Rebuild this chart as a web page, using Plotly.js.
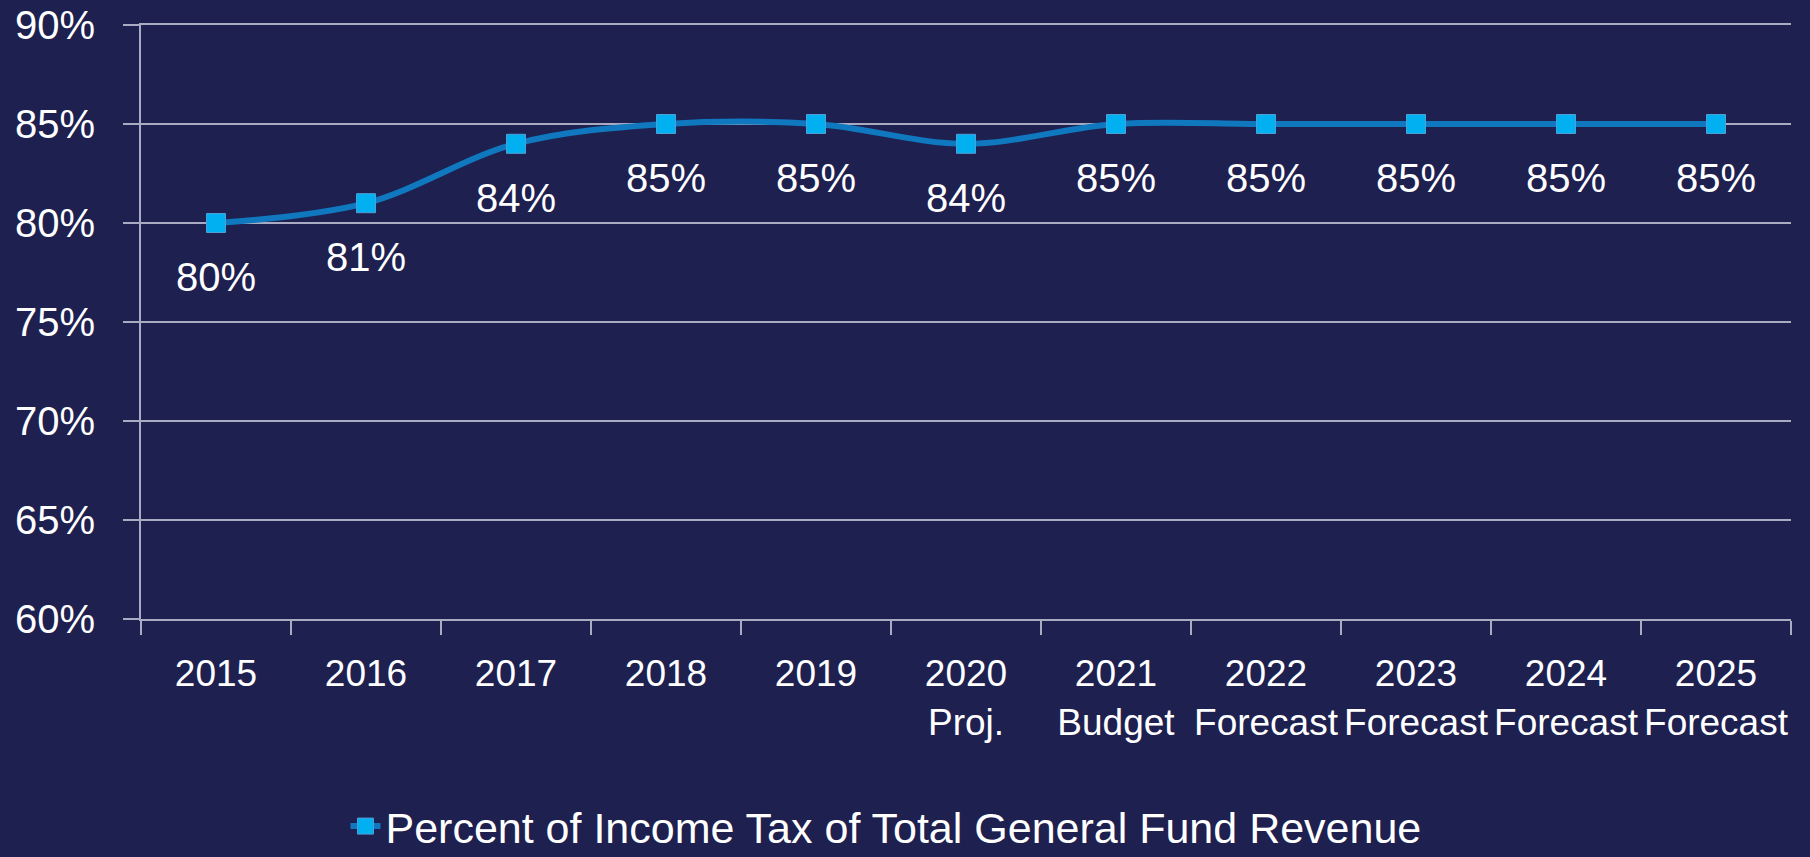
<!DOCTYPE html>
<html>
<head>
<meta charset="utf-8">
<script src="https://cdn.plot.ly/plotly-3.0.1.min.js"></script>
<style>
  html, body { margin: 0; padding: 0; background: #1e2050; }
  #chart { width: 1810px; height: 857px; }
</style>
</head>
<body>
<div id="chart"></div>
<script>
const categories = ["2015", "2016", "2017", "2018", "2019", "2020<br>Proj.", "2021<br>Budget", "2022<br>Forecast", "2023<br>Forecast", "2024<br>Forecast", "2025<br>Forecast"];
const percentValues = [0.80, 0.81, 0.84, 0.85, 0.85, 0.84, 0.85, 0.85, 0.85, 0.85, 0.85];
const seriesName = "Percent of Income Tax of Total General Fund Revenue";
const yTickValues = [0.60, 0.65, 0.70, 0.75, 0.80, 0.85, 0.90];

const FONT = '"Liberation Sans", Arial, sans-serif';

const trace = {
  type: 'scatter',
  mode: 'lines+markers',
  x: categories,
  y: percentValues,
  name: seriesName,
  line: { color: '#0f78bf', width: 6, shape: 'spline', smoothing: 1 },
  marker: { symbol: 'square', size: 19, color: '#00b0f0', line: { color: '#4f9fd6', width: 1 } },
  hoverinfo: 'skip'
};

const annotations = categories.map((c, i) => ({
  x: i,
  y: percentValues[i],
  xref: 'x', yref: 'y',
  text: Math.round(percentValues[i] * 100) + '%',
  showarrow: false,
  yshift: -54,
  font: { family: FONT, size: 40, color: '#ffffff' }
}));

const layout = {
  width: 1810,
  height: 857,
  paper_bgcolor: '#1e2050',
  plot_bgcolor: '#1e2050',
  margin: { l: 141, r: 19, t: 25, b: 238 },
  showlegend: true,
  legend: {
    orientation: 'h',
    xref: 'paper',
    x: 0.4515, xanchor: 'center',
    yref: 'container',
    y: 0.036, yanchor: 'middle',
    font: { family: FONT, size: 43, color: '#ffffff' },
    bgcolor: 'rgba(0,0,0,0)'
  },
  xaxis: {
    type: 'category',
    automargin: false,
    showline: true,
    mirror: true,
    linecolor: '#a9abc2',
    linewidth: 2,
    showgrid: false,
    zeroline: false,
    ticks: 'outside',
    tickson: 'boundaries',
    ticklen: 14,
    tickwidth: 2,
    tickcolor: '#a9abc2',
    tickangle: 0,
    ticklabelstandoff: 21,
    tickfont: { family: FONT, size: 37, color: '#ffffff' },
    range: [-0.5, categories.length - 0.5]
  },
  yaxis: {
    range: [0.60, 0.90],
    automargin: false,
    tickvals: yTickValues,
    tickformat: '.0%',
    showline: true,
    linecolor: '#a9abc2',
    linewidth: 2,
    showgrid: true,
    gridcolor: '#a9abc2',
    gridwidth: 2,
    zeroline: false,
    ticks: 'outside',
    ticklen: 16,
    tickwidth: 2,
    tickcolor: '#a9abc2',
    ticklabelstandoff: 20,
    tickfont: { family: FONT, size: 40, color: '#ffffff' }
  },
  annotations: annotations
};

Plotly.newPlot('chart', [trace], layout, { displayModeBar: false, staticPlot: true });
</script>
</body>
</html>
